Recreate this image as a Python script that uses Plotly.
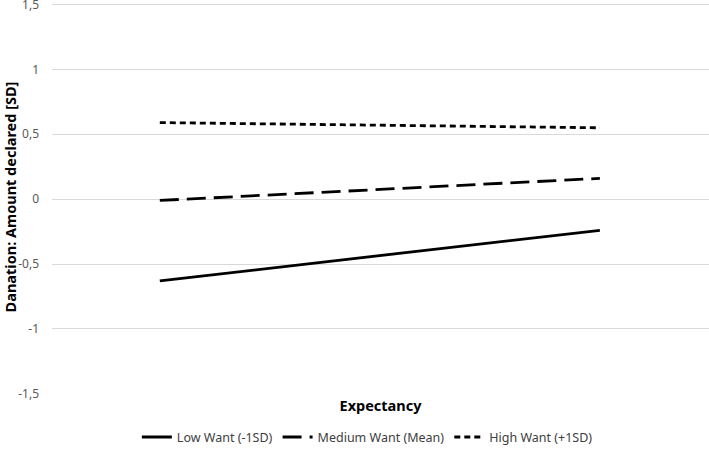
import plotly.graph_objects as go

# data
expectancy = ["Low Expectancy", "High Expectancy"]
low_want = [-0.63, -0.24]
medium_want = [-0.01, 0.16]
high_want = [0.59, 0.55]

tick_vals = [-1.5, -1, -0.5, 0, 0.5, 1, 1.5]
tick_text = ["-1,5", "-1", "-0,5", "0", "0,5", "1", "1,5"]

series = [
    ("Low Want (-1SD)", low_want, "solid"),
    ("Medium Want (Mean)", medium_want, "19px,8px"),
    ("High Want (+1SD)", high_want, "6px,4px"),
]

fig = go.Figure()
for name, vals, dash in series:
    fig.add_trace(go.Scatter(
        x=[0, 1], y=vals, mode="lines", name=name,
        line=dict(color="black", width=2.8, dash=dash),
    ))

fig.update_layout(
    width=709, height=449,
    margin=dict(l=52, r=0, t=0, b=55, autoexpand=False),
    plot_bgcolor="white", paper_bgcolor="white",
    font=dict(family="Noto Sans", size=12, color="#595959"),
    showlegend=True,
    legend=dict(orientation="h", x=0.48, xanchor="center", y=-0.072, yanchor="top",
                font=dict(size=12.5, color="#404040"), itemwidth=30),
    xaxis=dict(
        range=[-0.245, 1.248], showticklabels=False, showgrid=False,
        zeroline=False, showline=False, ticks="", automargin=False,
        title=dict(text="<b>Expectancy</b>", font=dict(size=14.5, color="black"), standoff=6),
    ),
    yaxis=dict(
        range=[-1.502, 1.535], tickvals=tick_vals, ticktext=tick_text,
        showgrid=True, gridcolor="#d9d9d9", gridwidth=1, zeroline=False,
        showline=False, ticks="", ticklabelstandoff=12, automargin=False,
        ticklabeloverflow="allow",
        title=dict(text="<b>Danation: Amount declared [SD]</b>",
                   font=dict(size=14.5, color="black"), standoff=6),
    ),
)

# page body has a default 8px margin, drop it so the figure fills the window
fig.write_html("out.html", config={"displayModeBar": False},
               post_script="document.body.style.margin='0';")
